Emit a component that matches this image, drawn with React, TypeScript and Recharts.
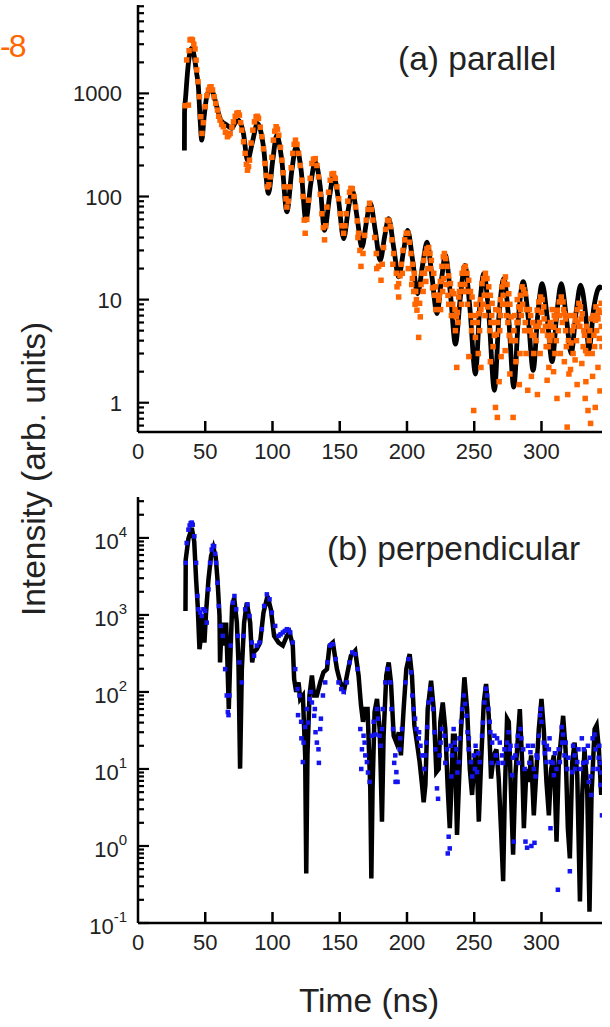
import React from 'react';
import { ComposedChart, Line, Scatter, XAxis, YAxis } from 'recharts';

const FONT = '"Liberation Sans", Arial, Helvetica, sans-serif';

// ---------- axis ticks ----------
const xTicks = [0, 50, 100, 150, 200, 250, 300];
const yTicksA = [0.6, 0.7, 0.8, 0.9, 1, 2, 3, 4, 5, 6, 7, 8, 9, 10, 20, 30, 40, 50, 60, 70, 80, 90, 100, 200, 300, 400, 500, 600, 700, 800, 900, 1000, 2000, 3000, 4000, 5000, 6000, 7000];
const yMajorA = [1, 10, 100, 1000];
const yTicksB = [0.1, 0.2, 0.3, 0.4, 0.5, 0.6, 0.7, 0.8, 0.9, 1, 2, 3, 4, 5, 6, 7, 8, 9, 10, 20, 30, 40, 50, 60, 70, 80, 90, 100, 200, 300, 400, 500, 600, 700, 800, 900, 1000, 2000, 3000, 4000, 5000, 6000, 7000, 8000, 9000, 10000, 20000, 30000];
const yMajorB = [0.1, 1, 10, 100, 1000, 10000];
const yMajorBExp = ['-1', '0', '1', '2', '3', '4'];

// ---------- (a) parallel : fit (black) [time ns, intensity] ----------
const fitA: [number, number][] = [
  [34.5, 280], [34.6, 650], [35.5, 950], [37.0, 1700], [38.5, 2450], [40.0, 2750], [41.8, 2300], [43.5, 1600], [44.9, 1160], [46.2, 551], [47.4, 352],
  [49.2, 600], [51.1, 928], [54.3, 1120], [56.4, 950], [58.6, 742], [61.5, 551], [66.0, 493], [69.7, 457], [72.3, 520], [74.7, 551],
  [78.4, 409], [81.4, 225], [85.4, 352], [88.8, 512], [93.3, 303], [97.0, 107], [100.2, 225], [103.2, 393], [106.9, 225], [110.7, 71],
  [114.4, 180], [117.6, 303], [121.3, 180], [124.8, 59], [128.5, 134], [131.8, 217], [135.5, 124], [138.7, 47], [142.4, 99], [145.4, 161],
  [149.1, 92], [152.9, 39], [156.3, 74], [159.3, 115], [162.8, 64], [166.5, 32], [169.7, 55], [172.7, 86], [176.4, 47], [180.1, 24],
  [183.4, 41], [186.4, 61], [190.1, 32], [193.8, 16.6], [197.5, 30], [200.5, 47], [204.2, 24], [207.9, 11.4], [211.7, 22], [214.9, 36],
  [218.6, 16.6], [222.3, 7.3], [225.6, 15.4], [228.5, 27], [232.3, 11.4], [236.0, 3.7], [239.7, 10.6], [243.0, 21.5], [246.7, 8.5], [250.9, 1.9],
  [254.1, 8.5], [257.1, 17.9], [260.8, 7.3], [265.0, 1.32], [268.5, 7.3], [272.0, 16.0], [275.7, 6.3], [279.4, 1.42], [282.9, 6.8], [286.4, 14.9],
  [290.1, 6.8], [293.8, 2.06], [297.3, 7.3], [300.5, 14.3], [304.2, 6.8], [307.9, 2.5], [311.4, 7.3], [314.7, 14.3], [318.4, 6.8], [322.1, 3.0],
  [325.6, 7.3], [329.1, 13.8], [332.8, 7.3], [335.3, 3.3], [339.0, 8.5], [343.4, 13.3], [345.0, 12.5],
];

// ---------- (a) parallel : data (orange) ----------
const dataA: [number, number][] = [
  [35.0, 760], [36.2, 2110], [37.5, 770], [38.0, 2600], [38.7, 3300], [39.5, 3350], [40.5, 3300], [41.5, 3000], [42.4, 2700], [43.2, 2100],
  [43.7, 1690], [44.6, 1300], [45.7, 928], [46.7, 594], [47.6, 409], [48.6, 520], [49.9, 742], [51.2, 950], [52.4, 1077], [53.4, 1150],
  [54.3, 1160], [55.4, 1080], [56.6, 928], [57.8, 800], [59.1, 689], [60.0, 600], [61.0, 551], [62.2, 500], [63.5, 475], [65.0, 420],
  [66.5, 380], [67.5, 395], [68.5, 409], [69.8, 470], [71.0, 530], [72.3, 600], [73.5, 640], [74.5, 650], [75.4, 616], [76.3, 520],
  [77.2, 440], [78.5, 340], [79.7, 262], [80.6, 205], [81.4, 180], [82.2, 195], [82.9, 225], [84.1, 330], [85.4, 440], [86.6, 530],
  [87.8, 594], [88.8, 600], [89.6, 573], [90.9, 470], [92.1, 380], [93.3, 290], [94.5, 209], [95.4, 160], [96.3, 124], [97.3, 130],
  [98.3, 155], [99.5, 240], [100.7, 352], [101.7, 430], [102.7, 475], [103.7, 450], [104.7, 393], [105.9, 300], [107.0, 225], [108.0, 170],
  [109.0, 124], [110.0, 95], [110.7, 79], [111.7, 90], [112.7, 124], [113.9, 190], [115.1, 262], [116.1, 320], [117.1, 352], [118.2, 320],
  [119.4, 262], [120.6, 200], [121.8, 144], [122.7, 100], [123.6, 59], [124.3, 44], [125.5, 60], [126.8, 92], [128.0, 150], [129.3, 209],
  [130.5, 230], [131.8, 233], [133.0, 200], [134.2, 155], [135.5, 105], [136.7, 68], [137.8, 50], [138.7, 38], [139.6, 52], [140.5, 79],
  [141.7, 110], [142.9, 144], [144.2, 165], [145.4, 167], [146.7, 150], [147.9, 124], [149.2, 95], [150.4, 68], [151.6, 52], [152.9, 44],
  [153.9, 52], [154.8, 68], [156.0, 90], [157.3, 110], [158.3, 120], [159.3, 119], [160.6, 100], [161.8, 79], [163.0, 58], [164.0, 44],
  [165.0, 30], [165.8, 21], [167.3, 28], [168.5, 42], [169.7, 59], [171.0, 75], [172.2, 86], [173.5, 75], [174.7, 59], [176.0, 40],
  [177.2, 28], [178.9, 21], [180.7, 15.4], [181.6, 22], [182.6, 32], [184.1, 48], [185.6, 59], [186.6, 58], [187.6, 51], [188.8, 38],
  [190.1, 28], [192.1, 18], [193.8, 14.3], [194.8, 17], [195.8, 22], [197.0, 30], [198.3, 38], [199.5, 44], [200.7, 44], [201.8, 36],
  [203.0, 28], [204.2, 22], [205.5, 18], [206.5, 12], [207.4, 7.9], [208.7, 4.3], [209.4, 9.2], [209.9, 6.8], [211.2, 18], [212.4, 24],
  [213.6, 28], [214.8, 31], [216.1, 32], [217.1, 28], [218.1, 24], [219.9, 18], [221.1, 13.3], [222.3, 11], [223.6, 9.9], [224.8, 15],
  [226.0, 21], [227.0, 26], [227.8, 28], [228.8, 25], [229.8, 21], [231.0, 17], [232.3, 14.3], [233.5, 12], [234.7, 11.4], [235.7, 8],
  [236.7, 6.8], [237.0, 2.2], [238.5, 10.6], [239.7, 14], [241.0, 18], [242.2, 20], [243.4, 21], [244.6, 18], [245.9, 15.4], [247.2, 12],
  [248.4, 10.6], [249.6, 0.84], [250.9, 4.3], [252.2, 6], [253.4, 7.3], [254.6, 10], [255.8, 14.3], [257.0, 16], [258.3, 18], [259.5, 16],
  [260.8, 13.3], [262.0, 11], [263.3, 9.2], [264.5, 6], [265.8, 0.9], [266.5, 4.6], [267.2, 0.72], [268.2, 7.9], [269.5, 10], [270.7, 13.3],
  [272.0, 15], [273.2, 16.6], [274.4, 14], [275.7, 11.4], [276.5, 9], [277.4, 6.8], [278.9, 0.72], [280.6, 4.0], [281.8, 6], [283.1, 8.5],
  [284.3, 11], [285.6, 13.3], [286.8, 12.5], [288.0, 11.4], [289.0, 8], [289.8, 1.32], [291.8, 5.0], [293.0, 4.5], [294.3, 3.0], [295.5, 5.5],
  [296.8, 7.9], [298.0, 9.5], [299.3, 10.6], [300.5, 10], [301.7, 8.5], [303.0, 5.5], [304.2, 1.65], [305.0, 3.5], [306.2, 4.0], [307.7, 4.5],
  [309.2, 5.4], [310.5, 6.5], [311.7, 7.9], [313.2, 9.5], [314.7, 10.6], [316.0, 9.5], [317.1, 7.3], [318.0, 5], [319.1, 0.58], [320.4, 1.9],
  [321.6, 2.1], [322.9, 5.0], [324.1, 5.5], [325.3, 6.3], [326.5, 8], [327.8, 9.2], [329.0, 8.5], [330.3, 7.3], [331.5, 5], [332.8, 3.2],
  [334.6, 0.84], [336.5, 0.63], [337.7, 3.0], [339.0, 4.5], [340.2, 6.3], [341.5, 7], [342.7, 7.9], [344.4, 9.2],
  [203.5, 14], [206.0, 9], [212.0, 12], [215.5, 20], [220.5, 11], [225.0, 8], [229.0, 14], [233.0, 7], [238.0, 6], [240.5, 9],
  [244.0, 12], [247.5, 7], [251.5, 9], [256.5, 9], [259.0, 11], [262.5, 6], [266.0, 8], [269.0, 5], [271.0, 9], [274.0, 7],
  [276.0, 4.5], [279.5, 5], [282.0, 10], [285.0, 7], [287.5, 5], [291.0, 8], [293.5, 6], [296.0, 4], [298.5, 6], [301.0, 5],
  [303.5, 3.5], [306.5, 6], [308.0, 8], [310.0, 3], [312.5, 5], [315.5, 6], [318.5, 3.5], [321.0, 7], [323.5, 3], [326.0, 4],
  [328.5, 5.5], [331.0, 3.5], [333.5, 5.5], [335.5, 4], [337.0, 6.5], [339.5, 3.5], [341.0, 5], [343.0, 4.2], [344.5, 5.5], [214.0, 15],
  [219.0, 13], [227.0, 16], [231.0, 9], [236.0, 5], [242.0, 12], [248.0, 5], [253.0, 3], [258.0, 7], [262.0, 2.5], [264.0, 3.5],
  [270.0, 2.8], [273.0, 3.2], [281.0, 2.5], [284.0, 3], [288.5, 3], [292.5, 1.8], [299.0, 3], [305.5, 2.2], [309.0, 2], [314.0, 3],
  [317.0, 2.5], [325.0, 2.6], [330.0, 2.4], [333.0, 1.6], [338.0, 1.8], [342.0, 2.2], [163.5, 40], [177.5, 20], [189.5, 22], [192.6, 13.3],
  [193.8, 10.6], [196.5, 18], [205.0, 12],
  [201.0, 20], [204.0, 16], [207.0, 10], [210.5, 14], [213.0, 18], [217.5, 20], [221.5, 8], [224.0, 11], [226.5, 12], [230.5, 11],
  [234.0, 9], [237.5, 7.5], [239.0, 12], [243.0, 14], [245.0, 9], [249.0, 6], [251.0, 7], [254.0, 5], [255.0, 8], [257.5, 11],
  [260.0, 8.5], [261.5, 5], [263.0, 7], [265.0, 4.5], [267.5, 6], [269.5, 7], [271.5, 11], [273.5, 9], [275.0, 6], [277.5, 4],
  [280.0, 7], [282.5, 6], [284.5, 8], [286.0, 9], [288.0, 6], [290.0, 5], [292.0, 7], [294.5, 4.5], [297.5, 5.5], [300.0, 7.5],
  [302.0, 6.5], [304.5, 4.5], [307.0, 5.5], [309.5, 7], [311.0, 4], [313.5, 7], [316.5, 8], [318.0, 6.5], [320.0, 4], [322.0, 3.8],
  [324.5, 7], [327.0, 6], [329.5, 6.5], [332.0, 4.5], [334.0, 3], [336.0, 5], [338.5, 7], [340.5, 8.5], [342.0, 6.5], [344.0, 7.5],
  [345.0, 3.5], [246.0, 2.8], [255.0, 2.2], [268.5, 1.6], [276.5, 1.9], [283.5, 1.5], [297.0, 1.2], [311.5, 1.1], [319.5, 1.2], [326.5, 1.5],
  [332.5, 1.1], [340.0, 0.9], [343.5, 1.3],
];

// ---------- (b) perpendicular : fit (black) ----------
const fitB: [number, number][] = [
  [35.3, 1127], [35.5, 5250], [37.5, 9800], [40.0, 13470], [41.8, 9000], [43.2, 2890], [44.4, 1306], [45.7, 360], [46.9, 535], [48.1, 970],
  [49.4, 438], [50.6, 1072], [52.4, 2890], [54.3, 5800], [56.1, 7430], [57.8, 5600], [59.1, 2890], [60.6, 970], [61.0, 242], [62.3, 795],
  [64.0, 400], [65.5, 795], [66.5, 242], [67.5, 60], [68.5, 242], [70.0, 1306], [71.5, 1675], [73.5, 795], [74.7, 242], [75.9, 10.1],
  [77.2, 198], [78.9, 795], [80.9, 1443], [83.4, 795], [84.9, 242], [85.9, 326], [88.3, 360], [90.8, 438], [93.3, 1072], [96.3, 1763],
  [98.8, 1183], [101.2, 535], [104.5, 438], [107.7, 400], [110.7, 535], [112.7, 592], [115.1, 400], [116.1, 147], [117.6, 100], [119.4, 133],
  [120.6, 81], [122.6, 90], [124.3, 15], [125.1, 0.44], [126.0, 15], [127.5, 90], [129.3, 163], [131.0, 90], [133.0, 90], [135.5, 133],
  [137.9, 180], [140.5, 198], [142.4, 400], [144.9, 438], [147.9, 198], [150.4, 133], [153.4, 109], [155.8, 180], [158.3, 295], [161.5, 342],
  [164.0, 163], [165.8, 67], [167.3, 41], [169.0, 60], [170.7, 60], [172.7, 5.6], [173.5, 0.38], [174.4, 5.6], [175.9, 55], [177.7, 81],
  [179.7, 33], [181.4, 2.07], [182.6, 27], [184.6, 163], [186.4, 242], [188.1, 133], [190.1, 27], [192.1, 22], [193.9, 30], [195.5, 15],
  [197.5, 60], [199.5, 198], [202.0, 310], [203.7, 163], [205.5, 37], [207.4, 22], [209.4, 12.3], [211.2, 6.2], [212.4, 3.7], [213.7, 6.2],
  [215.4, 60], [217.9, 140], [219.9, 60], [221.8, 9.1], [223.6, 10], [224.8, 41], [226.6, 73], [228.5, 33], [230.3, 5.6], [231.8, 1.7],
  [232.8, 4.6], [234.2, 27], [235.5, 27], [237.2, 1.39], [238.5, 5.6], [240.2, 33], [242.7, 155], [244.7, 60], [246.7, 10], [248.4, 4.6],
  [250.1, 12.3], [251.6, 18], [253.4, 2.07], [255.1, 12.3], [257.1, 73], [258.8, 127], [260.8, 49], [262.5, 7.5], [264.5, 15], [266.5, 18],
  [268.2, 7.5], [270.0, 1.53], [271.5, 0.35], [272.7, 4.6], [274.4, 45], [275.7, 41], [277.4, 4.6], [278.9, 0.77], [280.6, 8.3], [283.9, 60],
  [285.6, 12.3], [286.9, 1.7], [288.8, 10], [290.6, 6.8], [292.3, 15], [294.3, 2.5], [296.3, 10], [298.0, 33], [300.0, 81], [301.7, 33],
  [303.7, 6.8], [305.5, 2.5], [307.2, 10], [309.2, 15], [311.2, 1.14], [312.9, 12.3], [316.1, 49], [317.9, 18], [319.6, 1.7], [321.1, 0.69],
  [322.9, 12.3], [324.6, 22], [326.6, 8.3], [328.6, 0.19], [330.3, 4.6], [332.0, 18], [334.0, 5.6], [335.7, 0.14], [337.2, 4.6], [339.5, 33],
  [341.0, 37], [342.7, 18], [344.4, 4.6],
];

// ---------- (b) perpendicular : data (blue) ----------
const dataB: [number, number][] = [
  [35.5, 4750], [36.2, 8600], [37.5, 12800], [38.4, 14500], [39.2, 15600], [40.0, 15800], [40.7, 14850], [41.9, 10500], [43.2, 4750], [44.2, 1763],
  [44.9, 1183], [46.2, 1072], [47.4, 970], [48.6, 1183], [49.9, 1127], [51.1, 795], [52.4, 2150], [53.6, 4750], [54.8, 7070], [55.7, 7900],
  [56.6, 7800], [57.4, 6200], [58.1, 4750], [59.1, 2620], [60.1, 1306], [61.5, 720], [63.0, 535], [64.8, 198], [66.0, 90], [66.8, 55],
  [67.3, 50], [68.0, 90], [69.0, 400], [70.5, 1443], [71.7, 1763], [73.0, 1183], [74.2, 535], [75.4, 242], [77.2, 133], [78.4, 535],
  [79.7, 1183], [81.4, 1370], [82.9, 970], [84.6, 438], [86.3, 295], [88.3, 400], [90.3, 438], [92.1, 653], [93.8, 1306], [95.8, 1850],
  [97.8, 1597], [99.5, 1072], [102.0, 720], [104.5, 535], [106.0, 560], [107.7, 592], [109.2, 620], [110.7, 653], [112.0, 640], [113.2, 592],
  [115.1, 438], [116.9, 198], [118.6, 109], [120.1, 90], [121.3, 41], [122.6, 12.3], [123.1, 22], [124.3, 35], [125.6, 60], [127.5, 81],
  [129.3, 73], [131.0, 49], [132.0, 30], [133.0, 22], [134.2, 18], [135.5, 33], [137.5, 90], [139.2, 133], [140.9, 242], [142.9, 400],
  [144.9, 417], [146.9, 267], [149.1, 133], [151.1, 109], [152.9, 100], [155.3, 133], [157.3, 242], [159.3, 326], [161.5, 310], [163.3, 198],
  [165.3, 33], [166.5, 18], [167.7, 27], [169.0, 15], [170.2, 12.3], [172.2, 6.8], [173.9, 27], [175.2, 41], [177.7, 60], [179.7, 27],
  [181.4, 33], [183.9, 133], [185.6, 198], [187.6, 133], [189.6, 33], [191.3, 15], [191.5, 6.8], [192.1, 9.1], [193.0, 6.8], [194.5, 18],
  [196.3, 33], [198.8, 133], [201.2, 267], [203.0, 180], [205.0, 60], [207.0, 33], [208.7, 25], [210.0, 20], [211.2, 15], [212.9, 10],
  [214.4, 22], [216.1, 73], [217.4, 109], [219.4, 60], [221.1, 18], [222.3, 5.6], [223.1, 4.1], [224.3, 15], [226.1, 33], [227.8, 27],
  [229.8, 18], [230.3, 0.8], [231.0, 1.32], [231.8, 0.93], [233.5, 15], [234.7, 33], [236.7, 18], [238.5, 12.3], [240.2, 41], [242.2, 90],
  [244.2, 49], [245.9, 18], [247.6, 12.3], [249.6, 15], [252.1, 9.1], [254.1, 12.3], [255.8, 27], [257.6, 73], [259.6, 90], [261.5, 41],
  [263.3, 22], [265.0, 27], [267.0, 25], [269.0, 22], [270.7, 15], [272.5, 18], [274.4, 22], [276.4, 18], [278.2, 8.3], [279.4, 1.14],
  [280.6, 15], [282.4, 27], [284.4, 33], [286.4, 18], [288.1, 1.14], [289.3, 0.95], [291.8, 16.5], [292.5, 1.0], [294.3, 10], [294.8, 1.1],
  [296.3, 15], [298.0, 27], [300.0, 41], [301.7, 22], [303.7, 12.3], [305.5, 18], [306.7, 1.7], [307.2, 12.3], [309.2, 8.3], [311.2, 10],
  [312.2, 0.27], [313.7, 12.3], [315.4, 22], [317.1, 15], [319.1, 10], [321.1, 0.47], [322.9, 9.1], [324.6, 15], [326.6, 12.3], [329.0, 10],
  [331.5, 18], [333.5, 12.3], [335.2, 6.8], [337.0, 4.6], [338.5, 10], [340.2, 18], [341.9, 10], [343.9, 6.2], [345.0, 2.5],
  [232.5, 20], [246.0, 25], [253.0, 16], [262.0, 30], [268.0, 12], [277.0, 20], [283.0, 12], [290.0, 20], [297.0, 14], [304.0, 20],
  [310.0, 16], [318.0, 22], [325.0, 10], [330.0, 25], [336.0, 14], [343.0, 20], [344.0, 12], [180.5, 20], [188.5, 60], [215.0, 35],
  [239.0, 25], [250.5, 10], [260.5, 60], [285.0, 25], [299.0, 50], [315.0, 35], [338.0, 25],
  [119.0, 50], [121.5, 25], [126.5, 40], [128.5, 100], [131.5, 60], [134.5, 12], [136.0, 45], [166.0, 10], [168.5, 22], [171.0, 9],
  [176.5, 28], [178.5, 45], [182.0, 60], [190.5, 12], [195.0, 25], [204.0, 90], [206.0, 45], [209.0, 30], [213.5, 15], [218.5, 80],
  [220.5, 30], [225.0, 22], [228.5, 12], [233.0, 8], [235.5, 22], [237.5, 9], [241.0, 60], [243.2, 70], [245.0, 30], [248.5, 8],
  [251.0, 20], [256.5, 40], [258.5, 110], [263.0, 12], [266.0, 15], [271.5, 12], [275.5, 30], [278.8, 14], [281.5, 20], [287.5, 10],
  [291.0, 12], [293.5, 20], [295.5, 8], [299.5, 60], [302.5, 16], [306.0, 25], [308.5, 12], [312.8, 18], [316.0, 28], [320.0, 14],
  [323.5, 20], [327.5, 18], [331.0, 12], [334.5, 20], [336.5, 8], [339.5, 28], [342.5, 14], [344.5, 9],
];

const rows = (pairs: [number, number][]) => pairs.map(([t, v]) => ({ t, v }));

const ORANGE = '#FF6600';
const BLUE = '#1414F0';
const TEXT = '#222';

function XTick(props: any) {
  const { x, y, payload } = props;
  return (
    <g>
      {payload.value !== 0 && <line x1={x} x2={x} y1={y} y2={y - 11} stroke="#000" strokeWidth={2.5} />}
      <text x={x} y={y + 27} textAnchor="middle" fontSize={22} fontFamily={FONT} fill={TEXT}>
        {payload.value}
      </text>
    </g>
  );
}

function YTickA(props: any) {
  const { x, y, payload } = props;
  const v = payload.value;
  const major = yMajorA.indexOf(v) >= 0;
  return (
    <g>
      <line x1={x} x2={x + (major ? 11 : 6)} y1={y} y2={y} stroke="#000" strokeWidth={2.2} />
      {major && (
        <text x={x - 16} y={y + 8} textAnchor="end" fontSize={22} fontFamily={FONT} fill={TEXT}>
          {v}
        </text>
      )}
    </g>
  );
}

function YTickB(props: any) {
  const { x, y, payload } = props;
  const v = payload.value;
  const idx = yMajorB.indexOf(v);
  const major = idx >= 0;
  return (
    <g>
      <line x1={x} x2={x + (major ? 11 : 6)} y1={y} y2={y} stroke="#000" strokeWidth={2.2} />
      {major && (
        <text x={x - 11} y={y + 11} textAnchor="end" fontSize={22} fontFamily={FONT} fill={TEXT}>
          <tspan>10</tspan>
          <tspan dy={-12} fontSize={15}>{yMajorBExp[idx]}</tspan>
        </text>
      )}
    </g>
  );
}

const OrangeDot = (p: any) => <rect x={p.cx - 2.75} y={p.cy - 2.75} width={5.5} height={5.5} fill={ORANGE} />;
const BlueDot = (p: any) => <rect x={p.cx - 2.25} y={p.cy - 2.25} width={4.5} height={4.5} fill={BLUE} />;

const axisLine = { stroke: '#000', strokeWidth: 2.5 };

export default function App() {
  return (
    <div style={{ position: 'absolute', left: 0, top: 0, width: 610, height: 1027, background: '#fff', overflow: 'hidden' }}>
      <div style={{ position: 'absolute', left: 0, top: 0 }}>
        <ComposedChart width={610} height={470} margin={{ top: 5, right: 8, bottom: 8, left: 78 }}>
          <XAxis type="number" dataKey="t" domain={[0, 345]} ticks={xTicks} interval={0} allowDataOverflow
            tickSize={0} tickMargin={0} tickLine={false} axisLine={axisLine} tick={<XTick />} height={30} />
          <YAxis type="number" dataKey="v" scale="log" domain={[0.52, 7200]} ticks={yTicksA} interval={0} allowDataOverflow
            tickSize={0} tickMargin={0} tickLine={false} axisLine={axisLine} tick={<YTickA />} width={60} />
          <Scatter data={rows(dataA)} dataKey="v" shape={OrangeDot} isAnimationActive={false} />
          <Line data={rows(fitA)} dataKey="v" type="monotone" stroke="#000" strokeWidth={4.8} dot={false} activeDot={false} isAnimationActive={false} />
        </ComposedChart>
      </div>
      <div style={{ position: 'absolute', left: 0, top: 470 }}>
        <ComposedChart width={610} height={490} margin={{ top: 27, right: 8, bottom: 7, left: 78 }}>
          <XAxis type="number" dataKey="t" domain={[0, 345]} ticks={xTicks} interval={0} allowDataOverflow
            tickSize={0} tickMargin={0} tickLine={false} axisLine={axisLine} tick={<XTick />} height={30} />
          <YAxis type="number" dataKey="v" scale="log" domain={[0.1, 34000]} ticks={yTicksB} interval={0} allowDataOverflow
            tickSize={0} tickMargin={0} tickLine={false} axisLine={axisLine} tick={<YTickB />} width={60} />
          <Scatter data={rows(dataB)} dataKey="v" shape={BlueDot} isAnimationActive={false} />
          <Line data={rows(fitB)} dataKey="v" type="linear" stroke="#000" strokeWidth={4.5} dot={false} activeDot={false} isAnimationActive={false} />
        </ComposedChart>
      </div>
      <svg width={610} height={1027} style={{ position: 'absolute', left: 0, top: 0, pointerEvents: 'none' }}>
        <text x={0} y={57} fontSize={32} letterSpacing={-2} fontFamily={FONT} fill={ORANGE}>-8</text>
        <text x={398} y={70} fontSize={33.5} fontFamily={FONT} fill={TEXT}>(a) parallel</text>
        <text x={327} y={560} fontSize={33.5} fontFamily={FONT} fill={TEXT}>(b) perpendicular</text>
        <text x={45} y={469} transform="rotate(-90 45 469)" textAnchor="middle" fontSize={33.5} fontFamily={FONT} fill={TEXT}>
          Intensity (arb. units)
        </text>
        <text x={369} y={1012} textAnchor="middle" fontSize={33.5} fontFamily={FONT} fill={TEXT}>Time (ns)</text>
      </svg>
    </div>
  );
}
